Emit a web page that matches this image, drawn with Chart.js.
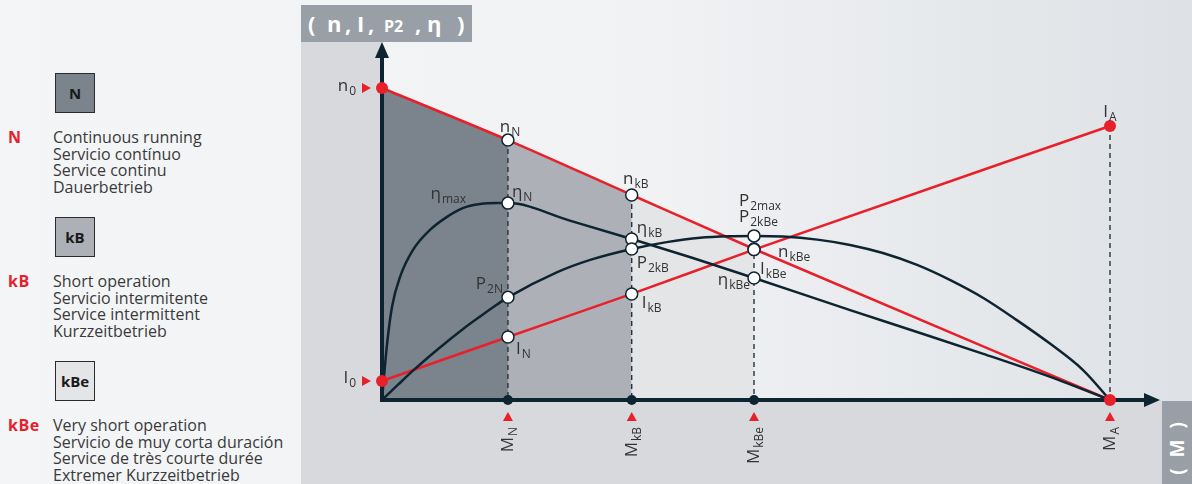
<!DOCTYPE html>
<html>
<head>
<meta charset="utf-8">
<script src="https://cdn.jsdelivr.net/npm/chart.js@4/dist/chart.umd.min.js"></script>
<style>
  body { margin: 0; }
  #wrap { position: relative; width: 1192px; height: 484px; overflow: hidden;
    background: linear-gradient(to right, #f4f5f7 0%, #f0f2f4 55%, #dee1e5 100%);
    font-family: "Open Sans", sans-serif; color: #3a3a3a; }
  .panel { position: absolute; background: #d8d9dc; }
  .dark { position: absolute; background: #989fa6; color: #fff; font-weight: 700; }
  .title { padding-left: 7px; box-sizing: border-box; font-size: 22px; line-height: 37px; white-space: nowrap; }
  .title span { display: inline-block; }
  .lbox { position: absolute; left: 55px; width: 38px; height: 38px; border: 1px solid #2b2b2b;
    font-weight: 700; font-size: 15px; line-height: 38px; text-align: center; color: #1a1a1a; }
  .tag { position: absolute; left: 8px; font-weight: 700; font-size: 16px; line-height: 16.6px; color: #e3222b; letter-spacing: 0.5px; }
  .txt { position: absolute; left: 53px; font-size: 16px; line-height: 16.6px; white-space: nowrap; }
  #chartBox { position: absolute; left: 0; top: 0; width: 1192px; height: 484px; }
</style>
</head>
<body>
<div id="wrap">
  <div class="panel" style="left:301px;top:42px;width:81px;height:442px"></div>
  <div class="panel" style="left:301px;top:400px;width:861px;height:84px"></div>
  <div class="dark title" style="left:301px;top:5px;width:171px;height:37px"><span style="width:19px">(</span><span style="width:18px">n</span><span style="width:12px">,</span><span style="width:11px">I</span><span style="width:16px">,</span><span style="width:31px;font-size:16px">P2</span><span style="width:12px">,</span><span style="width:30px">η</span><span>)</span></div>
  <div class="dark" style="left:1162px;top:401px;width:30px;height:83px">
    <div style="position:absolute;left:15px;top:46px;transform:translate(-50%,-50%) rotate(-90deg);font-size:19px;white-space:nowrap;letter-spacing:3px">( M )</div>
  </div>

  <div class="lbox" style="top:73px;background:#7b838c">N</div>
  <div class="tag" style="top:129px">N</div>
  <div class="txt" style="top:129px">Continuous running<br>Servicio contínuo<br>Service continu<br>Dauerbetrieb</div>

  <div class="lbox" style="top:217px;background:#adb1b7">kB</div>
  <div class="tag" style="top:273px">kB</div>
  <div class="txt" style="top:273px">Short operation<br>Servicio intermitente<br>Service intermittent<br>Kurzzeitbetrieb</div>

  <div class="lbox" style="top:361px;background:#e4e5e7">kBe</div>
  <div class="tag" style="top:417px">kBe</div>
  <div class="txt" style="top:417px">Very short operation<br>Servicio de muy corta duración<br>Service de très courte durée<br>Extremer Kurzzeitbetrieb</div>

  <div id="chartBox"><canvas id="c"></canvas></div>
</div>
<script>
// torque positions: origin, N, kB, kBe, A (M_A = 100)
const M_KEYS = [0, 17.3, 34.3, 51.1, 100];
const M_NAMES = ['0', 'N', 'kB', 'kBe', 'A'];
const N_VALUES = [100, 83.3, 65.7, 48.4, 0];
const I_VALUES = [6.1, 20.2, 34.0, 48.2, 87.8];

const ETA_M = [0, 0.27, 0.69, 1.37, 2.47, 4.26, 6.59, 8.93, 11.1, 13.5, 15.8, 17.3, 25.8, 34.3, 42.7, 51.1, 64.3, 73.5, 82.6, 91.8, 100];
const ETA_VALUES = [0, 7.4, 17.8, 29.8, 39.4, 48.1, 54.5, 58.7, 61.5, 62.8, 63.1, 63.1, 57.5, 51.6, 45.5, 39.1, 28.8, 21.8, 14.8, 7.4, 0];

const P2_M = [0, 2.2, 4.26, 6.6, 8.93, 11.1, 13.5, 15.8, 17.3, 24.0, 28.6, 34.3, 39.1, 43.7, 48.2, 51.1, 55.1, 59.8, 64.3, 68.8, 73.5, 78.0, 82.6, 87.2, 91.8, 96.3, 100];
const P2_VALUES = [0, 4.9, 9.4, 14.2, 18.7, 22.7, 26.8, 30.6, 32.9, 40.9, 44.9, 48.4, 50.6, 52.0, 52.5, 52.6, 52.4, 51.4, 49.7, 47.1, 43.3, 38.5, 32.7, 25.6, 18.0, 9.6, 0];

// marked values at M_N, M_kB, M_kBe
const ETA_MARKS = [63.1, 51.6, 39.1];
const P2_MARKS = [32.9, 48.4, 52.6];

const DARK = '#0e2431', RED = '#e8202a';
const FILLS = ['#7b838c', '#adb1b7', '#e4e5e7'];

const pts = (xs, ys) => xs.map((x, i) => ({ x, y: ys[i] }));

const datasets = [];
// operating zones under the speed line
FILLS.forEach((col, i) => datasets.push({
  data: pts(M_KEYS.slice(i, i + 2), N_VALUES.slice(i, i + 2)),
  fill: 'origin', backgroundColor: col, borderWidth: 0, pointRadius: 0, isFill: true, order: 10
}));
// dashed guides
const guideTops = [N_VALUES[1], N_VALUES[2], P2_MARKS[2], I_VALUES[4]];
guideTops.forEach((top, i) => datasets.push({
  data: [{ x: M_KEYS[i + 1], y: top }, { x: M_KEYS[i + 1], y: 0 }],
  borderColor: '#26343e', borderWidth: 1.4, borderDash: [5, 4], pointRadius: 0, order: 6
}));
const curve = (data, color) => ({ data, borderColor: color, borderWidth: 2.5, pointRadius: 0,
  cubicInterpolationMode: 'monotone', fill: false, order: 4 });
datasets.push(curve(pts(ETA_M, ETA_VALUES), DARK));
datasets.push(curve(pts(P2_M, P2_VALUES), DARK));
datasets.push(curve(pts(M_KEYS, N_VALUES), RED));
datasets.push(curve(pts(M_KEYS, I_VALUES), RED));
// points
const mk = M_KEYS.slice(1, 4);
datasets.push({ data: [...pts(mk, N_VALUES.slice(1, 4)), ...pts(mk, ETA_MARKS), ...pts(mk, P2_MARKS), ...pts(mk, I_VALUES.slice(1, 4))],
  showLine: false, pointRadius: 6, pointBackgroundColor: '#fff', pointBorderColor: DARK, pointBorderWidth: 1.5, order: 2 });
datasets.push({ data: [{ x: 0, y: N_VALUES[0] }, { x: 0, y: I_VALUES[0] }, { x: M_KEYS[4], y: I_VALUES[4] }, { x: M_KEYS[4], y: 0 }],
  showLine: false, pointRadius: 6, pointBackgroundColor: RED, pointBorderWidth: 0, order: 1 });
datasets.push({ data: mk.map(x => ({ x, y: 0 })),
  showLine: false, pointRadius: 5, pointBackgroundColor: DARK, pointBorderWidth: 0, order: 1 });
datasets.forEach(d => { d.clip = false; });

// label table: main, subscript, anchor M, anchor value, dx, dy, align
const LABELS = [
  ['n', '0', M_KEYS[0], N_VALUES[0], -26, 3, 'right'],
  ['I', '0', M_KEYS[0], I_VALUES[0], -26, 2, 'right'],
  ['n', 'N', M_KEYS[1], N_VALUES[1], 2, -8, 'center'],
  ['n', 'kB', M_KEYS[2], N_VALUES[2], 4, -11, 'center'],
  ['η', 'max', M_KEYS[1], ETA_MARKS[0], -42, -4, 'right'],
  ['η', 'N', M_KEYS[1], ETA_MARKS[0], 4, -6, 'left'],
  ['η', 'kB', M_KEYS[2], ETA_MARKS[1], 5, -6, 'left'],
  ['P', '2N', M_KEYS[1], P2_MARKS[0], -5, -8, 'right'],
  ['P', '2kB', M_KEYS[2], P2_MARKS[1], 5, 19, 'left'],
  ['I', 'N', M_KEYS[1], I_VALUES[1], 8, 17, 'left'],
  ['I', 'kB', M_KEYS[2], I_VALUES[2], 10, 14, 'left'],
  ['P', '2max', M_KEYS[3], P2_MARKS[2], -15, -30, 'left'],
  ['P', '2kBe', M_KEYS[3], P2_MARKS[2], -15, -14, 'left'],
  ['n', 'kBe', M_KEYS[3], N_VALUES[3], 24, 8, 'left'],
  ['I', 'kBe', M_KEYS[3], I_VALUES[3], 6, 24, 'left'],
  ['η', 'kBe', M_KEYS[3], ETA_MARKS[2], -4, 7, 'right'],
  ['I', 'A', M_KEYS[4], I_VALUES[4], 0, -9, 'center']
];

function subText(ctx, main, sub, x, y, align) {
  ctx.font = '17px "Open Sans"';
  const w1 = ctx.measureText(main).width;
  ctx.font = '12px "Open Sans"';
  const w2 = ctx.measureText(sub).width;
  const w = w1 + 1 + w2;
  const sx = align === 'right' ? x - w : align === 'center' ? x - w / 2 : x;
  ctx.textAlign = 'left'; ctx.textBaseline = 'alphabetic';
  ctx.font = '17px "Open Sans"'; ctx.fillText(main, sx, y);
  ctx.font = '12px "Open Sans"'; ctx.fillText(sub, sx + w1 + 1, y + 4);
}

function tri(ctx, x, y, dir) {
  ctx.beginPath();
  if (dir === 'right') { ctx.moveTo(x + 5, y); ctx.lineTo(x - 4, y - 5); ctx.lineTo(x - 4, y + 5); }
  else { ctx.moveTo(x, y - 5); ctx.lineTo(x - 5, y + 4); ctx.lineTo(x + 5, y + 4); }
  ctx.closePath(); ctx.fill();
}

const decor = {
  id: 'decor',
  beforeDatasetsDraw(chart) { chart.$axesDone = false; },
  beforeDatasetDraw(chart, args) {
    if (chart.$axesDone || chart.data.datasets[args.index].isFill) return;
    chart.$axesDone = true;
    const { ctx, chartArea: a } = chart;
    ctx.save();
    ctx.strokeStyle = DARK; ctx.fillStyle = DARK; ctx.lineWidth = 4;
    ctx.beginPath();
    ctx.moveTo(a.left, a.bottom + 2); ctx.lineTo(a.left, a.top + 14);
    ctx.moveTo(a.left - 2, a.bottom); ctx.lineTo(a.right - 14, a.bottom);
    ctx.stroke();
    ctx.beginPath();
    ctx.moveTo(a.left, a.top); ctx.lineTo(a.left - 7, a.top + 16); ctx.lineTo(a.left + 7, a.top + 16); ctx.closePath();
    ctx.moveTo(a.right, a.bottom); ctx.lineTo(a.right - 16, a.bottom - 7); ctx.lineTo(a.right - 16, a.bottom + 7); ctx.closePath();
    ctx.fill();
    ctx.restore();
  },
  afterDraw(chart) {
    const { ctx, scales: { x, y } } = chart;
    ctx.save();
    ctx.fillStyle = RED;
    tri(ctx, x.getPixelForValue(0) - 16, y.getPixelForValue(N_VALUES[0]), 'right');
    tri(ctx, x.getPixelForValue(0) - 16, y.getPixelForValue(I_VALUES[0]), 'right');
    M_KEYS.slice(1).forEach(m => tri(ctx, x.getPixelForValue(m), y.getPixelForValue(0) + 17, 'up'));
    ctx.fillStyle = '#333';
    LABELS.forEach(([t, s, m, v, dx, dy, al]) =>
      subText(ctx, t, s, x.getPixelForValue(m) + dx, y.getPixelForValue(v) + dy, al));
    M_KEYS.slice(1).forEach((m, i) => {
      ctx.save();
      ctx.translate(x.getPixelForValue(m), y.getPixelForValue(0) + 27);
      ctx.rotate(-Math.PI / 2);
      subText(ctx, 'M', M_NAMES[i + 1], 0, 5, 'right');
      ctx.restore();
    });
    ctx.restore();
  }
};

new Chart(document.getElementById('c'), {
  type: 'line',
  data: { datasets },
  options: {
    responsive: true, maintainAspectRatio: false, animation: false, events: [],
    layout: { padding: { left: 382, right: 32, top: 42, bottom: 84 } },
    plugins: { legend: { display: false }, tooltip: { enabled: false } },
    scales: {
      x: { type: 'linear', display: false, min: 0, max: 106.87 },
      y: { type: 'linear', display: false, min: 0, max: 114.74 }
    }
  },
  plugins: [decor]
});
</script>
</body>
</html>
